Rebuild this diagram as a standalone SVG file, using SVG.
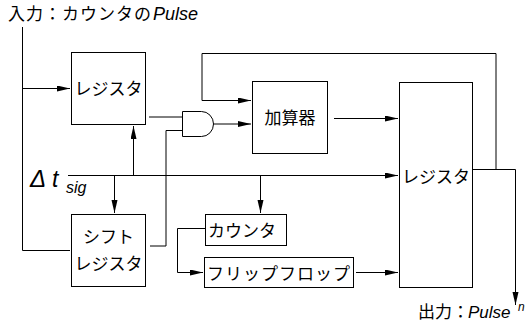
<svg xmlns="http://www.w3.org/2000/svg" width="529" height="326" viewBox="0 0 529 326">
<style>
.box{fill:#fff;stroke:#000;stroke-width:1}
.ln{fill:none;stroke:#000;stroke-width:1}
.arr{marker-end:url(#ah)}
.jp{font-family:"Noto Sans CJK JP","Noto Sans CJK SC",sans-serif;font-size:17px;fill:#000}
.it{font-family:"Liberation Sans",Arial,sans-serif;font-style:italic;fill:#000}
</style>
<defs>
<marker id="ah" markerUnits="userSpaceOnUse" markerWidth="14" markerHeight="8" refX="13" refY="3" orient="auto">
<path d="M0,0 L13,3 L0,6 Z" fill="#000"/>
</marker>
</defs>
<g id="connectors">
<polyline class="ln" points="22.5,27 22.5,250.5 70,250.5"/>
<line class="ln arr" x1="22.5" y1="88.5" x2="70" y2="88.5"/>
<line class="ln" x1="149" y1="117" x2="182" y2="117"/>
<polyline class="ln" points="150,246 166,246 166,130.5 182,130.5"/>
<line class="ln arr" x1="213" y1="124" x2="251" y2="124"/>
<polyline class="ln arr" points="496,169 496,53.5 202,53.5 202,100.5 251,100.5"/>
<line class="ln arr" x1="334" y1="118.5" x2="398" y2="118.5"/>
<line class="ln arr" x1="68" y1="175.5" x2="398" y2="175.5"/>
<line class="ln arr" x1="133.5" y1="175.5" x2="133.5" y2="126"/>
<line class="ln arr" x1="114.5" y1="175.5" x2="114.5" y2="213"/>
<line class="ln arr" x1="260.5" y1="175.5" x2="260.5" y2="213"/>
<polyline class="ln arr" points="205,228.5 177.5,228.5 177.5,272.5 203,272.5"/>
<line class="ln arr" x1="356" y1="272.5" x2="398" y2="272.5"/>
<polyline class="ln arr" points="473,169.5 515.5,169.5 515.5,305"/>
</g>
<g id="input-label">
<text class="jp" x="8" y="20" textLength="143" lengthAdjust="spacing">入力：カウンタの</text>
<text class="it" x="153" y="20" font-size="18">Pulse</text>
</g>
<g id="dt-label">
<text class="it" x="30" y="187" font-size="24">Δ</text>
<text class="it" x="52" y="187" font-size="23">t</text>
<text class="it" x="66" y="193" font-size="16">sig</text>
</g>
<g id="register1">
<rect class="box" x="71.5" y="52.5" width="74" height="72"/>
<text class="jp" x="108.5" y="95" text-anchor="middle">レジスタ</text>
</g>
<g id="and-gate">
<path class="box" d="M182.5,111.5 L201.5,111.5 A12,12.5 0 0 1 201.5,136.5 L182.5,136.5 Z"/>
</g>
<g id="adder">
<rect class="box" x="252.5" y="81.5" width="75" height="72"/>
<text class="jp" x="290" y="124" text-anchor="middle">加算器</text>
</g>
<g id="register2">
<rect class="box" x="399.5" y="82.5" width="73" height="205"/>
<text class="jp" x="436" y="183" text-anchor="middle">レジスタ</text>
</g>
<g id="shift-register">
<rect class="box" x="71.5" y="214.5" width="74" height="72"/>
<text class="jp" x="108.5" y="243" text-anchor="middle">シフト</text>
<text class="jp" x="108.5" y="270" text-anchor="middle">レジスタ</text>
</g>
<g id="counter">
<rect class="box" x="205.5" y="214.5" width="81" height="31"/>
<text class="jp" x="208" y="237">カウンタ</text>
</g>
<g id="flipflop">
<rect class="box" x="204.5" y="257.5" width="149" height="30"/>
<text class="jp" x="207" y="280" textLength="143" lengthAdjust="spacing">フリップフロップ</text>
</g>
<g id="output-label">
<text class="jp" x="418" y="318" font-size="16">出力：</text>
<text class="it" x="468" y="318" font-size="17">Pulse</text>
<text class="it" x="518" y="311" font-size="12">n</text>
</g>
</svg>
